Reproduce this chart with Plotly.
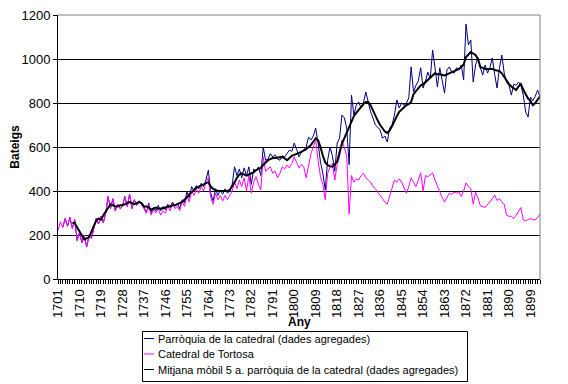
import plotly.graph_objects as go

years = list(range(1701, 1904))

tick_labels = ["1701", "1710", "1719", "1728", "1737", "1746", "1755", "1764", "1773",
               "1782", "1791", "1800", "1809", "1818", "1827", "1836", "1845", "1854",
               "1863", "1872", "1881", "1890", "1899"]

series_names = ["Parròquia de la catedral (dades agregades)",
                "Catedral de Tortosa",
                "Mitjana mòbil 5 a. parròquia de la catedral (dades agregades)"]

tortosa = [
    220, 260, 235, 275, 240, 280, 230, 270, 175, 210,
    165, 200, 145, 195, 185, 230, 275, 250, 285, 255,
    300, 375, 320, 365, 310, 340, 320, 330, 375, 330,
    385, 320, 360, 335, 350, 340, 320, 300, 340, 290,
    315, 300, 320, 290, 310, 300, 330, 310, 345, 320,
    330, 310, 350, 330, 380, 350, 400, 380, 410, 390,
    420, 400, 440, 460, 370, 340, 390, 360, 380, 355,
    380, 360, 380, 400, 440, 410, 450, 420, 460, 400,
    470, 390, 440, 465, 430, 405, 555, 490, 500, 510,
    480, 490, 460, 480, 510, 500, 518, 505, 525, 555,
    530, 505, 520, 510, 460, 520, 570, 600, 632, 540,
    465, 430, 360, 480, 510, 525, 450, 520, 555, 632,
    600, 560, 295, 470, 440, 455, 450, 470, 480, 460,
    450, 441, 420, 410, 395, 380, 360, 350, 340, 380,
    420, 450, 440, 455, 440, 415, 390, 420, 460, 440,
    420, 450, 482, 400, 470, 465, 475, 482, 450, 420,
    395, 370, 350, 370, 390, 385, 395, 390, 395, 375,
    400, 437, 420, 410, 340, 395, 370, 333, 330, 325,
    340, 350, 365, 382, 357, 365, 350, 340, 290, 285,
    285, 275, 290, 310, 325, 268, 265, 270, 275, 270,
    268, 280, 295,
]

parroquia = [
    None, None, 235, 275, 240, 280, 230, 270, 175, 210,
    165, 200, 145, 195, 185, 230, 275, 250, 285, 255,
    300, 375, 320, 365, 310, 340, 320, 330, 375, 330,
    385, 320, 360, 335, 355, 345, 330, 300, 345, 300,
    325, 310, 335, 310, 330, 315, 340, 325, 350, 330,
    345, 320, 360, 345, 395, 370, 420, 400, 425, 410,
    435, 420, 450, 495, 390, 355, 410, 380, 405, 385,
    410, 390, 400, 430, 510, 470, 500, 460, 505, 470,
    510, 430, 500, 490, 510, 470, 600, 540, 545, 570,
    555, 565, 545, 540, 560, 555, 570, 586, 580, 618,
    590, 555, 575, 586, 600, 645, 632, 650, 686, 618,
    532, 480, 405, 540, 600, 560, 490, 618, 640, 745,
    732, 686, 520, 836, 745, 790, 805, 777, 800, 850,
    805, 760, 732, 700, 690, 677, 640, 650, 623, 686,
    700, 745, 814, 777, 800, 790, 800, 823, 964, 850,
    880, 900, 960, 868, 900, 940, 910, 1041, 960, 873,
    960, 900, 845, 950, 964, 940, 936, 960, 950, 973,
    905, 1159, 1064, 1086, 895, 973, 1005, 960, 927, 973,
    936, 960, 1005, 930, 868, 960, 1018, 936, 895, 880,
    836, 886, 880, 895, 880, 836, 759, 736, 827, 810,
    830, 859, 827,
]

mitjana = [
    None, None, None, None, None, None, 255, 255, 235, 215,
    195, 180, 185, 190, 215, 240, 265, 275, 270, 290,
    305, 320, 340, 335, 330, 330, 335, 335, 340, 345,
    350, 345, 340, 345, 350, 345, 330, 330, 325, 315,
    320, 325, 320, 320, 320, 325, 330, 330, 335, 335,
    340, 345, 350, 360, 370, 385, 395, 405, 415, 420,
    425, 430, 435, 440, 420, 410, 405, 400, 400, 400,
    400, 400, 405, 420, 440, 460, 475, 480, 475, 470,
    475, 480, 485, 495, 500, 505, 518, 530, 540, 545,
    550, 550, 552, 555, 555, 548, 540, 550, 560, 564,
    570, 573, 578, 584, 590, 600, 609, 625, 640, 630,
    600, 560, 530, 518, 512, 510, 520, 535, 580, 615,
    640, 665, 690, 720, 740, 755, 770, 785, 795, 805,
    805, 790, 765, 745, 720, 700, 685, 670, 664, 675,
    695, 720, 740, 760, 770, 780, 790, 795, 805, 840,
    855, 870, 880, 885, 895, 905, 915, 927, 935, 930,
    932, 927, 925, 930, 936, 940, 945, 950, 955, 964,
    975, 1009, 1020, 1032, 1025, 1018, 1000, 964, 960, 955,
    955, 955, 955, 950, 948, 945, 935, 918, 900, 886,
    875, 865, 859, 875, 886, 860, 836, 820, 810, 790,
    800, 818, 830,
]

colors = ["#000080", "#FF00FF", "#000000"]
widths = [1, 1, 2]

FONT = "Liberation Sans, Arial, sans-serif"

# figure geometry (the page body adds an 8px offset)
W, H = 560, 376
ML, MR, MT, MB = 50, 28, 7, 105
PW, PH = W - ML - MR, H - MT - MB


def px_x(fx):
    return (fx - ML) / PW


def px_y(fy):
    return (H - MB - fy) / PH


fig = go.Figure()
for name, vals, col, wd in zip(series_names, [parroquia, tortosa, mitjana], colors, widths):
    fig.add_trace(go.Scatter(x=years, y=vals, mode="lines", name=name,
                             line=dict(color=col, width=wd), showlegend=False))

shapes = [
    dict(type="line", xref="paper", yref="paper", x0=0, x1=1, y0=1, y1=1,
         line=dict(color="#808080", width=1), layer="above"),
    dict(type="line", xref="paper", yref="paper", x0=1, x1=1, y0=0, y1=1,
         line=dict(color="#808080", width=1), layer="above"),
    dict(type="rect", xref="paper", yref="paper",
         x0=px_x(134.5), x1=px_x(459.5), y0=px_y(323.5), y1=px_y(373.5),
         line=dict(color="black", width=1), fillcolor="white", layer="above"),
]
annotations = [
    dict(xref="paper", yref="paper", x=0.5, y=px_y(314), text="<b>Any</b>",
         showarrow=False, xanchor="center", yanchor="middle",
         font=dict(family=FONT, size=12, color="black")),
]
row_y = [330.5, 346, 361.5]
for name, col, ry in zip(series_names, colors, row_y):
    shapes.append(dict(type="line", xref="paper", yref="paper",
                       x0=px_x(136), x1=px_x(146), y0=px_y(ry), y1=px_y(ry),
                       line=dict(color=col, width=1), layer="above"))
    annotations.append(dict(xref="paper", yref="paper", x=px_x(148), y=px_y(ry),
                            text=name, showarrow=False, xanchor="left", yanchor="middle",
                            font=dict(family=FONT, size=11, color="black")))

fig.update_layout(
    width=W, height=H,
    margin=dict(l=ML, r=MR, t=MT, b=MB, autoexpand=False),
    paper_bgcolor="white", plot_bgcolor="white",
    font=dict(family=FONT, size=13, color="black"),
    showlegend=False,
    xaxis=dict(
        range=[1701, 1903], tickmode="array", automargin=False,
        tickvals=[int(t) for t in tick_labels], ticktext=tick_labels,
        tickangle=-90, ticks="outside", ticklen=4, tickcolor="black",
        showgrid=False, showline=True, linecolor="black", linewidth=1,
        zeroline=False, ticklabeloverflow="allow",
        minor=dict(dtick=1, tick0=1701, ticks="outside", ticklen=4, tickcolor="black", showgrid=False),
        tickfont=dict(size=13),
    ),
    yaxis=dict(
        range=[0, 1200], dtick=200, tick0=0, automargin=False,
        showgrid=True, gridcolor="black", gridwidth=1,
        showline=True, linecolor="black", linewidth=1,
        ticks="outside", ticklen=4, tickcolor="black",
        zeroline=False, ticklabeloverflow="allow",
        title=dict(text="<b>Bateigs</b>", font=dict(size=12), standoff=7),
        tickfont=dict(size=13),
    ),
    shapes=shapes,
    annotations=annotations,
)

fig.write_html("out.html")
